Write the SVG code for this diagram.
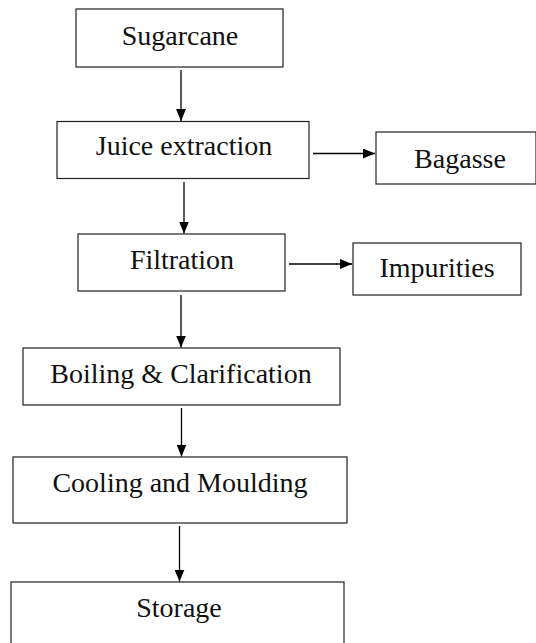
<svg xmlns="http://www.w3.org/2000/svg" width="536" height="643" viewBox="0 0 536 643">
<style>
.box{fill:#fff;stroke:#222;stroke-width:1.2}
.lbl{font-family:'Liberation Serif','Times New Roman','DejaVu Serif',serif;font-size:28px;fill:#111;text-anchor:middle}
.con line{stroke:#000;stroke-width:1.3;marker-end:url(#ah)}
</style>
<defs>
<marker id="ah" markerWidth="12" markerHeight="10" refX="12" refY="5" orient="auto" markerUnits="userSpaceOnUse">
<path d="M0,0 L12,5 L0,10 Z" fill="#000"/>
</marker>
</defs>
<rect width="536" height="643" fill="#fff"/>
<g id="n-sugarcane"><rect class="box" x="76" y="9" width="207" height="58"/><text class="lbl" x="180" y="45" font-family="Liberation Serif, serif">Sugarcane</text></g>
<g id="n-juice"><rect class="box" x="57" y="121.5" width="252" height="57"/><text class="lbl" x="184" y="155" font-family="Liberation Serif, serif">Juice extraction</text></g>
<g id="n-bagasse"><rect class="box" x="376" y="132" width="160" height="52"/><text class="lbl" x="460" y="168" font-family="Liberation Serif, serif">Bagasse</text></g>
<g id="n-filtration"><rect class="box" x="78" y="234" width="207" height="57"/><text class="lbl" x="182" y="269" font-family="Liberation Serif, serif">Filtration</text></g>
<g id="n-impurities"><rect class="box" x="353" y="243" width="168" height="52"/><text class="lbl" x="437" y="277" font-family="Liberation Serif, serif">Impurities</text></g>
<g id="n-boiling"><rect class="box" x="23" y="348" width="317" height="57"/><text class="lbl" x="181" y="383" font-family="Liberation Serif, serif">Boiling &amp; Clarification</text></g>
<g id="n-cooling"><rect class="box" x="13" y="457" width="334" height="66"/><text class="lbl" x="180" y="492" font-family="Liberation Serif, serif">Cooling and Moulding</text></g>
<g id="n-storage"><rect class="box" x="11" y="582" width="333" height="70"/><text class="lbl" x="179" y="617" font-family="Liberation Serif, serif">Storage</text></g>
<g id="connectors" class="con">
<line x1="181" y1="70" x2="181" y2="121"/>
<line x1="313" y1="153.5" x2="375" y2="153.5"/>
<line x1="184" y1="182" x2="184" y2="233.5"/>
<line x1="289" y1="264" x2="352" y2="264"/>
<line x1="181" y1="295" x2="181" y2="347.5"/>
<line x1="181.5" y1="408" x2="181.5" y2="456.5"/>
<line x1="179.5" y1="526" x2="179.5" y2="581.5"/>
</g>
</svg>
